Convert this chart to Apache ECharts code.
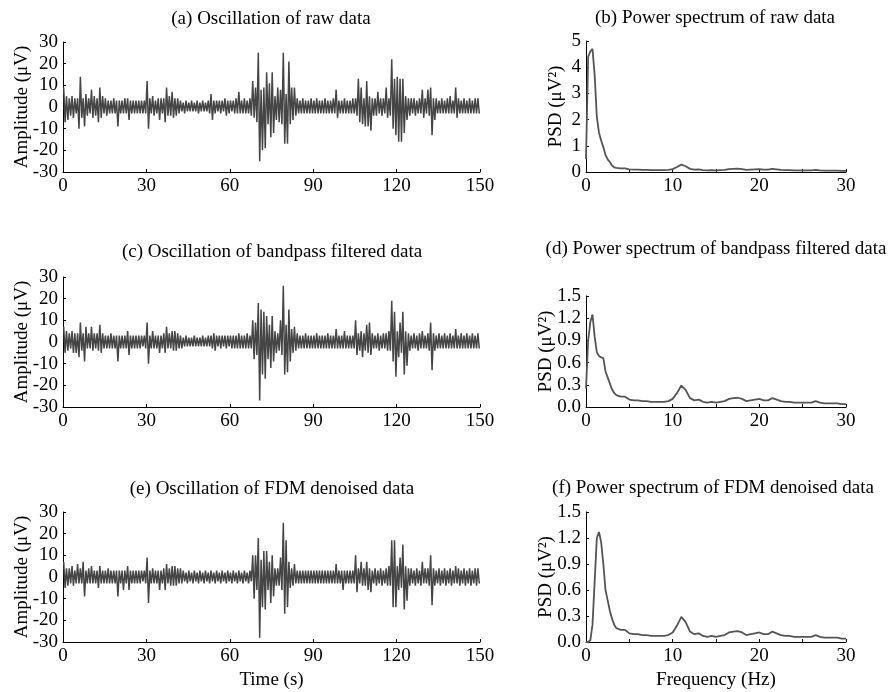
<!DOCTYPE html>
<html><head><meta charset="utf-8">
<script src="https://cdn.jsdelivr.net/npm/echarts@6/dist/echarts.min.js"></script>
<style>html,body{margin:0;padding:0;background:#fff}#c{width:891px;height:692px}</style>
</head><body><div id="c"></div>
<script>
// ---- Oscillation data: per-second upper / lower excursion (µV), 0..149 s ----
const rawHi = [9,5,4,5,4,4,14,4,6,4, 8,5,4,9,5,4,3,3,4,3, 3,3,4,4,3,3,3,3,3,3, 12,4,5,3,4,4,4,9,5,7, 4,4,3,2,3,2,3,2,3,2,
  3,2,3,6,3,3,3,3,4,3, 3,3,4,7,3,4,3,4,12,9, 25,8,9,16,11,16,5,9,8,25, 6,21,9,9,4,3,4,3,3,4, 3,4,3,3,4,3,3,4,8,3,
  3,4,3,3,4,4,13,9,4,12, 5,4,4,7,4,4,9,4,22,13, 14,13,13,5,4,4,4,3,4,8, 4,8,9,4,4,3,4,3,4,5, 3,9,4,3,4,3,4,3,4,4];
const rawLo = [-7,-6,-4,-5,-3,-10,-5,-9,-4,-3, -5,-4,-7,-5,-3,-4,-3,-3,-3,-9, -3,-3,-3,-6,-3,-3,-3,-3,-3,-3, -10,-3,-4,-3,-6,-3,-7,-4,-4,-5, -4,-3,-2,-3,-2,-2,-2,-2,-3,-2,
  -2,-2,-3,-6,-3,-2,-3,-2,-4,-3, -2,-3,-3,-3,-3,-3,-3,-4,-5,-7, -25,-20,-19,-8,-14,-12,-6,-7,-8,-17, -17,-8,-6,-4,-3,-3,-3,-3,-3,-3, -3,-3,-3,-3,-3,-3,-3,-3,-5,-3,
  -3,-3,-3,-3,-3,-4,-7,-8,-9,-9, -11,-4,-4,-3,-4,-3,-5,-4,-10,-13, -16,-16,-12,-6,-4,-3,-4,-3,-3,-5, -3,-4,-13,-6,-3,-3,-3,-3,-3,-3, -3,-5,-3,-3,-3,-3,-3,-3,-3,-3];
const bpHi = [7,5,4,5,4,4,9,4,7,4, 7,4,4,8,4,3,3,4,3,3, 3,3,3,5,3,3,3,3,3,3, 9,3,5,3,3,3,4,7,4,5, 5,4,3,2,3,2,2,3,2,2,
  3,2,3,3,4,3,3,3,3,3, 3,3,3,4,3,3,4,3,10,9, 18,15,14,12,8,12,5,4,10,26, 8,15,6,7,4,3,3,4,3,3, 3,4,3,3,3,4,3,3,6,3,
  3,5,3,3,3,10,4,5,4,8, 9,4,3,4,3,4,4,5,19,14, 5,9,14,5,4,3,4,3,4,5, 3,4,9,4,3,4,3,4,3,4, 3,6,3,4,3,4,3,4,3,4];
const bpLo = [-5,-4,-3,-5,-5,-7,-4,-9,-3,-3, -4,-3,-4,-5,-3,-3,-3,-3,-3,-9, -3,-3,-3,-6,-3,-3,-3,-3,-2,-3, -10,-3,-3,-3,-5,-3,-5,-3,-3,-4, -4,-3,-3,-2,-2,-2,-2,-2,-2,-2,
  -2,-2,-2,-3,-4,-2,-3,-2,-3,-2, -3,-3,-3,-3,-3,-3,-3,-3,-8,-6, -27,-15,-17,-8,-12,-9,-5,-4,-6,-15, -14,-9,-5,-4,-3,-3,-3,-3,-3,-3, -3,-3,-3,-3,-3,-3,-3,-3,-3,-3,
  -3,-3,-3,-3,-3,-6,-4,-7,-4,-5, -6,-3,-3,-4,-3,-3,-4,-4,-9,-16, -7,-5,-15,-11,-4,-3,-3,-4,-3,-3, -3,-4,-13,-4,-3,-3,-3,-3,-3,-3, -3,-3,-3,-3,-3,-3,-3,-3,-3,-3];
const fdmHi = [7,4,4,5,3,6,4,7,3,4, 5,3,3,5,3,3,4,3,3,3, 3,3,3,5,3,3,3,3,3,3, 9,3,4,3,3,3,4,6,4,5, 5,4,4,3,2,3,2,3,2,3,
  2,3,2,3,2,3,2,3,2,3, 2,3,2,3,2,3,2,3,10,10, 18,8,12,12,7,10,4,4,9,25, 17,7,4,6,3,3,3,3,3,3, 3,3,3,3,3,3,3,3,6,3,
  3,3,3,3,3,10,4,7,4,7, 4,3,4,3,4,3,4,5,17,17, 5,9,15,5,4,4,3,4,3,7, 4,4,10,4,3,4,3,4,3,4, 3,5,4,3,4,3,4,3,4,4];
const fdmLo = [-5,-4,-3,-4,-3,-3,-3,-9,-3,-3, -3,-3,-5,-3,-3,-3,-3,-3,-3,-9, -3,-6,-3,-6,-3,-3,-3,-3,-2,-3, -12,-3,-3,-3,-6,-3,-6,-3,-4,-4, -4,-3,-3,-2,-3,-2,-3,-2,-3,-2,
  -3,-2,-3,-2,-3,-2,-3,-2,-3,-2, -3,-2,-3,-2,-3,-2,-3,-2,-10,-6, -28,-14,-15,-6,-12,-9,-4,-4,-6,-17, -14,-5,-4,-3,-3,-3,-3,-3,-3,-3, -3,-3,-3,-3,-3,-3,-3,-3,-3,-3,
  -6,-3,-3,-3,-3,-7,-3,-4,-4,-6, -7,-3,-4,-3,-4,-3,-4,-4,-14,-14, -6,-5,-15,-11,-4,-3,-4,-3,-4,-3, -3,-4,-13,-4,-3,-4,-3,-4,-3,-4, -3,-3,-4,-3,-4,-3,-4,-3,-4,-3];

// ---- Power spectra ----
const freq = [0,0.25,0.5,0.75,1,1.25,1.5,1.75,2,2.25,2.5,2.75,3,3.25,3.5,3.75,4,
  4.5,5,5.5,6,6.5,7,7.5,8,8.5,9,9.5,10,10.5,11,11.5,12,12.5,13,13.5,14,14.5,15,15.5,16,16.5,17,17.5,18,18.5,19,19.5,20,20.5,21,21.5,22,22.5,23,23.5,24,24.5,25,25.5,26,26.5,27,27.5,28,28.5,29,29.5,30];
const psdRaw = [0.5,4.4,4.6,4.7,3.7,2.1,1.5,1.2,0.95,0.65,0.48,0.38,0.25,0.18,0.16,0.15,0.14,
  0.14,0.1,0.09,0.09,0.08,0.08,0.07,0.07,0.07,0.07,0.08,0.11,0.19,0.28,0.22,0.12,0.09,0.1,0.07,0.06,0.07,0.06,0.07,0.08,0.11,0.12,0.125,0.11,0.08,0.09,0.1,0.11,0.09,0.09,0.12,0.1,0.08,0.07,0.07,0.06,0.06,0.06,0.06,0.06,0.08,0.06,0.05,0.05,0.05,0.05,0.04,0.04];
const psdBp = [0.25,0.9,1.15,1.25,0.95,0.74,0.69,0.67,0.66,0.48,0.4,0.32,0.24,0.19,0.16,0.15,0.14,
  0.14,0.1,0.09,0.09,0.08,0.08,0.07,0.07,0.07,0.07,0.08,0.11,0.19,0.29,0.23,0.12,0.09,0.1,0.07,0.06,0.07,0.06,0.07,0.08,0.11,0.12,0.125,0.11,0.08,0.09,0.1,0.11,0.09,0.09,0.12,0.1,0.08,0.07,0.07,0.06,0.06,0.06,0.06,0.06,0.08,0.06,0.05,0.05,0.05,0.05,0.04,0.04];
const psdFdm = [0,0,0.02,0.2,0.7,1.2,1.27,1.15,0.9,0.6,0.48,0.36,0.27,0.2,0.16,0.15,0.14,
  0.14,0.1,0.09,0.09,0.08,0.08,0.07,0.07,0.07,0.07,0.08,0.11,0.19,0.29,0.23,0.12,0.09,0.1,0.07,0.06,0.07,0.06,0.07,0.08,0.11,0.12,0.125,0.11,0.08,0.09,0.1,0.11,0.09,0.09,0.12,0.1,0.08,0.07,0.07,0.06,0.06,0.06,0.06,0.06,0.08,0.06,0.05,0.05,0.05,0.05,0.04,0.04];

const titles = ['(a) Oscillation of raw data','(b) Power spectrum of raw data',
  '(c) Oscillation of bandpass filtered data','(d) Power spectrum of bandpass filtered data',
  '(e) Oscillation of FDM denoised data','(f) Power spectrum of FDM denoised data'];

// ---- build ----
const FONT = 'Liberation Serif';
function osc(hi, lo){ const d=[]; for(let i=0;i<hi.length;i++){ d.push([i+0.25,hi[i]]); d.push([i+0.75,lo[i]]); } return d; }
function spec(v){ return freq.map((f,i)=>[f,v[i]]); }

const grids = [
  {left:63, top:42, width:417, height:130},
  {left:586, top:41, width:260, height:131},
  {left:63, top:277, width:417, height:130},
  {left:586, top:296, width:260, height:111},
  {left:63, top:512, width:417, height:130},
  {left:586, top:512, width:260, height:130}
];
const axisLine = {show:true, onZero:false, lineStyle:{color:'#000', width:1}};
const axisTick = {show:true, inside:true, length:3, lineStyle:{color:'#000'}};
const lbl = {fontFamily:FONT, fontSize:19, color:'#000', margin:5};
const nameStyle = {fontFamily:FONT, fontSize:19, color:'#000'};

const xAxis = [], yAxis = [], series = [];
grids.forEach((g,i)=>{
  const isTime = i%2===0;
  const row = Math.floor(i/2);
  if (isTime) {
    xAxis.push({type:'value', gridIndex:i, min:0, max:150, interval:30, axisLine, axisTick, splitLine:{show:false}, axisLabel:lbl,
      name: row===2 ? 'Time (s)' : '', nameLocation:'middle', nameGap:29, nameMoveOverlap:false, nameTextStyle:nameStyle});
    yAxis.push({type:'value', gridIndex:i, min:-30, max:30, interval:10, axisLine, axisTick, splitLine:{show:false}, axisLabel:lbl,
      name:'Amplitude (\u03bcV)', nameLocation:'middle', nameRotate:90, nameGap:31, nameMoveOverlap:false, nameTextStyle:nameStyle});
  } else {
    xAxis.push({type:'value', gridIndex:i, min:0, max:30, interval:5, axisLine, axisTick, splitLine:{show:false},
      axisLabel:Object.assign({}, lbl, {formatter:v=> (v%10===0 ? String(v) : '')}),
      name: row===2 ? 'Frequency (Hz)' : '', nameLocation:'middle', nameGap:29, nameMoveOverlap:false, nameTextStyle:nameStyle});
    const big = row===0;
    yAxis.push({type:'value', gridIndex:i, min:0, max: big?5:1.5, interval: big?1:0.3, axisLine, axisTick, splitLine:{show:false},
      axisLabel:Object.assign({}, lbl, {formatter:v=> big ? String(v) : v.toFixed(1)}),
      name:'PSD (\u03bcV\u00b2)', nameLocation:'middle', nameRotate:90, nameGap: big?20:30, nameMoveOverlap:false, nameTextStyle:nameStyle});
  }
});
const oscData = [osc(rawHi,rawLo), osc(bpHi,bpLo), osc(fdmHi,fdmLo)];
const specData = [spec(psdRaw), spec(psdBp), spec(psdFdm)];
for (let r=0;r<3;r++){
  series.push({type:'line', xAxisIndex:2*r, yAxisIndex:2*r, data:oscData[r], showSymbol:false, symbol:'none',
    lineStyle:{color:'#454545', width:1.5}, silent:true});
  series.push({type:'line', xAxisIndex:2*r+1, yAxisIndex:2*r+1, data:specData[r], showSymbol:false, symbol:'none',
    lineStyle:{color:'#555', width:1.8}, silent:true});
}
const titlePos = [[271,19],[715,18],[272,252],[716,249],[272,489],[713,488]];
const graphic = titles.map((t,i)=>({type:'text', x:titlePos[i][0], y:titlePos[i][1],
  style:{text:t, fontFamily:FONT, fontSize:19, fill:'#000', textAlign:'center', textVerticalAlign:'middle', align:'center', verticalAlign:'middle'}}));

const chart = echarts.init(document.getElementById('c'), null, {renderer:'canvas'});
chart.setOption({animation:false, backgroundColor:'#fff', grid:grids, xAxis, yAxis, series, graphic});
</script></body></html>
